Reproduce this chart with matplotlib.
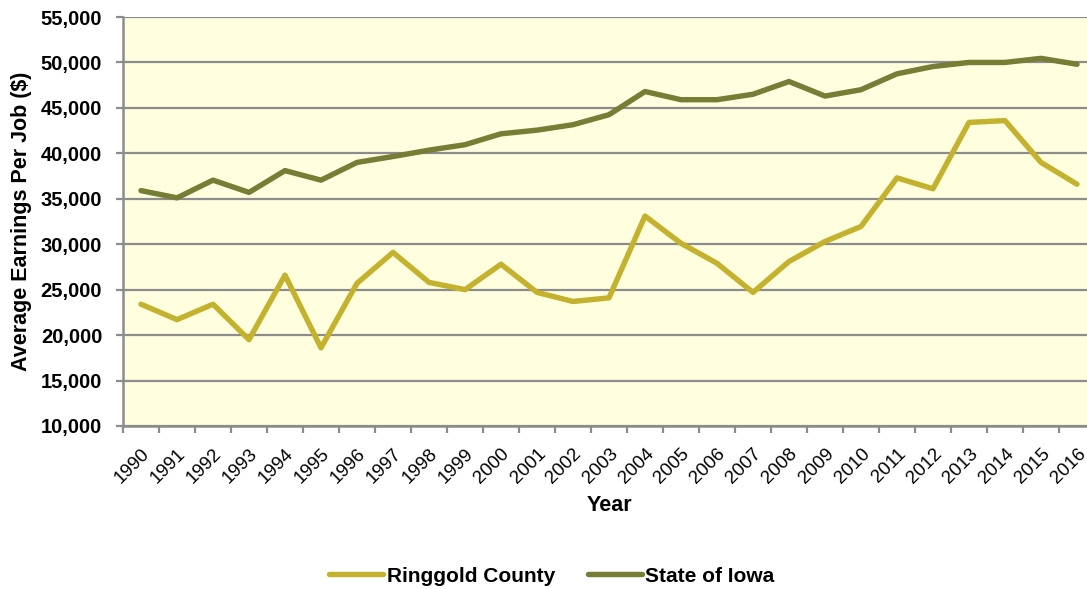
import matplotlib.pyplot as plt
import matplotlib.transforms as mtransforms
import numpy as np

plt.rcParams['font.family'] = ['Liberation Sans', 'DejaVu Sans']

years = list(range(1990, 2017))
ringgold = [23400, 21700, 23400, 19500, 26600, 18600, 25700, 29100, 25800, 25000,
            27800, 24700, 23700, 24100, 33100, 30100, 27900, 24700, 28100, 30300,
            31950, 37300, 36100, 43400, 43600, 39000, 36600]
iowa = [35900, 35100, 37050, 35700, 38100, 37050, 39000, 39650, 40350, 40950,
        42150, 42550, 43150, 44250, 46800, 45900, 45900, 46500, 47900, 46300,
        47000, 48750, 49550, 50000, 50000, 50450, 49800]

c_ring = '#C4B12E'
c_iowa = '#767D35'
grid_c = '#8C8C8C'

fig = plt.figure(figsize=(10.87, 5.89), dpi=100)
ax = fig.add_axes([123 / 1087, 1 - 426 / 589, 972 / 1087, 409 / 589])
ax.set_facecolor('#FFFFE0')

x = np.arange(len(years))
ax.plot(x, ringgold, color=c_ring, lw=3.9, label='Ringgold County', solid_capstyle='round')
ax.plot(x, iowa, color=c_iowa, lw=3.9, label='State of Iowa', solid_capstyle='round')

ax.set_xlim(-0.5, len(years) - 0.5)
ax.set_ylim(10000, 55000)
ax.set_yticks(np.arange(10000, 55001, 5000))
ax.set_yticklabels([f'{v:,}' for v in range(10000, 55001, 5000)], fontsize=14.5, fontweight='bold')
ax.yaxis.grid(True, color=grid_c, lw=1.6)
ax.set_axisbelow(True)

ax.set_xticks(x)
ax.set_xticklabels([str(y) for y in years], rotation=45, ha='right', va='top',
                   rotation_mode='anchor', fontsize=13.5)
shift = mtransforms.ScaledTranslation(-4 / 100, 0, fig.dpi_scale_trans)
for lab in ax.get_xticklabels():
    lab.set_transform(lab.get_transform() + shift)
ax.set_xticks(np.arange(-0.5, len(years), 1), minor=True)
ax.tick_params(axis='x', which='major', length=0, pad=14)
ax.tick_params(axis='x', which='minor', length=5, width=1.6, color=grid_c)
ax.tick_params(axis='y', length=5, width=1.6, color=grid_c, pad=10)

for s in ['top', 'right']:
    ax.spines[s].set_visible(False)
for s in ['left', 'bottom']:
    ax.spines[s].set_color(grid_c)
    ax.spines[s].set_linewidth(1.8)

ax.set_ylabel('Average Earnings Per Job ($)', fontsize=15.5, fontweight='bold', labelpad=6)
ax.set_xlabel('Year', fontsize=15.5, fontweight='bold', labelpad=6)

fig.legend(loc='center', bbox_to_anchor=(552 / 1087, 1 - 576 / 589), ncol=2, frameon=False,
           prop={'size': 15, 'weight': 'bold'}, handlelength=2.6, handletextpad=0.15,
           columnspacing=1.6)

plt.savefig('out.png', dpi=100)
plt.close()
